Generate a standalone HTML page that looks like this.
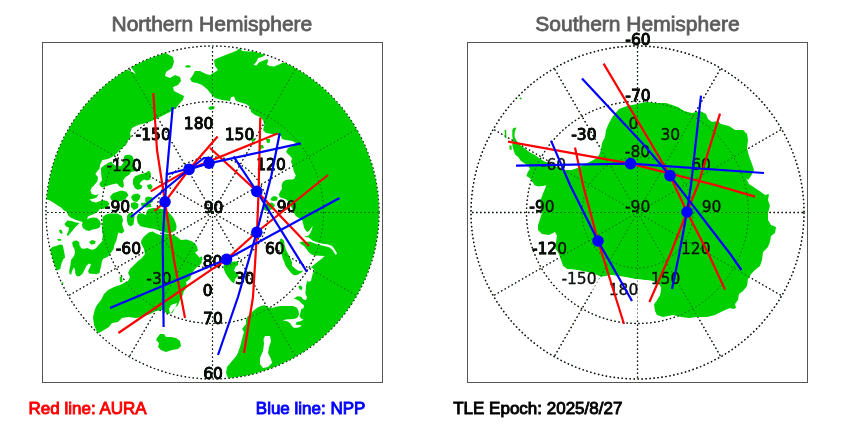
<!DOCTYPE html>
<html><head><meta charset="utf-8"><title>Satellite orbit crossings</title>
<style>
html,body{margin:0;padding:0;background:#fff;}
body{width:850px;height:425px;overflow:hidden;position:relative;font-family:"Liberation Sans",sans-serif;}
svg{position:absolute;left:0;top:0;}
.title{font-size:21px;fill:#5c5c5c;stroke:#5c5c5c;stroke-width:0.8px;}
.lab{text-anchor:middle;font-family:'DejaVu Sans',sans-serif;font-size:15.5px;fill:#000;stroke:#000;stroke-width:0.8px;}
.lab2{text-anchor:middle;font-family:'DejaVu Sans',sans-serif;font-size:15.5px;fill:#0a100a;stroke:#0a100a;stroke-width:0.35px;}
.leg{font-size:17px;stroke-width:0.9px;}
.grat{fill:none;stroke:#000;stroke-dasharray:1.5 2.5;}
.grat2{fill:none;stroke:#002800;stroke-width:0.9;stroke-dasharray:1.3 2.7;opacity:0.8;}
.trk{fill:none;stroke-width:2.2;stroke-linecap:butt;stroke-linejoin:round;}
</style></head><body>
<svg width="850" height="425" viewBox="0 0 850 425" font-family="Liberation Sans, sans-serif">
<defs>
<clipPath id="cn"><circle cx="212.5" cy="212.5" r="166.5"/></clipPath>
<clipPath id="cs"><circle cx="637.5" cy="212.5" r="166.5"/></clipPath>
</defs>
<rect x="0" y="0" width="850" height="425" fill="#fff"/>

<rect x="42.5" y="42.5" width="340" height="340" fill="none" stroke="#555" stroke-width="1"/>
<g class="grat" stroke-width="1.2">
<circle cx="212.5" cy="212.5" r="55.5"/>
<circle cx="212.5" cy="212.5" r="111.0"/>
<line x1="212.5" y1="212.5" x2="379.0" y2="212.5"/>
<line x1="212.5" y1="212.5" x2="356.7" y2="295.8"/>
<line x1="212.5" y1="212.5" x2="295.8" y2="356.7"/>
<line x1="212.5" y1="212.5" x2="212.5" y2="379.0"/>
<line x1="212.5" y1="212.5" x2="129.3" y2="356.7"/>
<line x1="212.5" y1="212.5" x2="68.3" y2="295.8"/>
<line x1="212.5" y1="212.5" x2="46.0" y2="212.5"/>
<line x1="212.5" y1="212.5" x2="68.3" y2="129.2"/>
<line x1="212.5" y1="212.5" x2="129.2" y2="68.3"/>
<line x1="212.5" y1="212.5" x2="212.5" y2="46.0"/>
<line x1="212.5" y1="212.5" x2="295.8" y2="68.3"/>
<line x1="212.5" y1="212.5" x2="356.7" y2="129.2"/>
<circle cx="212.5" cy="212.5" r="166.5" stroke-width="1.2"/>
</g>
<g class="lab"><text x="198.6" y="129.2">180</text>
<text x="153.2" y="140.3">-150</text>
<text x="239.5" y="140.2">150</text>
<text x="124.0" y="170.8">-120</text>
<text x="271.0" y="170.3">120</text>
<text x="117.5" y="212.2">-90</text>
<text x="213.6" y="212.7">90</text>
<text x="286.5" y="212.3">90</text>
<text x="128.4" y="254.2">-60</text>
<text x="274.8" y="254.3">60</text>
<text x="159.0" y="284.2">-30</text>
<text x="244.8" y="284.3">30</text>
<text x="212.5" y="267.2">80</text>
<text x="207.8" y="296.1">0</text>
<text x="212.9" y="323.6">70</text>
<text x="213.0" y="378.9">60</text></g>
<g clip-path="url(#cn)">
<g fill="#00d000"><path fill-rule="evenodd" d="M164.0 52.0 L173.0 57.0 L174.0 62.0 L172.0 68.0 L166.0 72.0 L165.0 76.0 L170.0 78.0 L175.0 75.0 L180.0 77.0 L181.0 81.0 L178.0 85.0 L173.0 87.0 L174.0 91.0 L180.0 94.0 L184.0 96.0 L183.0 100.0 L180.0 103.0 L176.0 108.0 L170.0 112.0 L162.0 116.0 L154.0 120.0 L146.0 123.0 L138.0 125.0 L132.0 128.0 L130.0 133.0 L131.0 137.0 L128.0 140.0 L126.0 145.0 L122.0 148.0 L119.0 151.0 L116.0 154.0 L112.0 157.0 L108.0 159.0 L102.4 160.0 L100.2 164.2 L99.5 168.5 L97.4 171.3 L95.3 174.0 L98.0 177.0 L97.4 181.2 L94.6 184.7 L91.8 187.5 L90.4 190.4 L91.8 193.9 L96.0 195.3 L98.8 193.9 L96.7 197.4 L93.2 198.8 L89.6 199.5 L91.8 201.6 L96.0 202.4 L100.2 201.0 L103.8 200.2 L107.3 201.0 L109.4 203.8 L107.3 207.3 L103.8 208.7 L100.2 208.7 L98.0 211.5 L97.0 212.0 L95.0 213.5 L91.4 215.0 L88.0 216.5 L87.0 219.4 L90.0 218.0 L94.0 217.6 L97.0 218.0 L99.6 220.6 L101.0 224.0 L99.6 227.6 L96.0 229.0 L92.6 229.4 L89.0 231.0 L85.5 230.0 L82.6 227.6 L82.0 225.0 L82.6 222.0 L79.6 221.0 L76.0 220.0 L71.4 218.0 L68.5 216.0 L67.0 212.0 L64.0 210.6 L61.0 207.6 L57.0 205.0 L54.0 203.0 L50.0 200.6 L46.0 199.0 L30.0 197.0 L30.0 30.0 L164.0 30.0Z M125.0 66.0 L130.0 66.0 L133.0 70.0 L136.0 74.0 L132.0 72.0 L128.0 70.0Z"/>
<polygon points="64.4,224.0 67.3,220.6 71.4,221.0 76.0,222.4 79.6,223.0 77.3,225.3 75.0,227.6 72.6,230.6 70.0,233.5 68.0,236.0 66.7,234.7 68.5,231.0 69.0,227.6 66.0,226.5"/>
<polygon points="59.0,230.0 61.0,229.4 62.6,232.0 62.0,234.0 60.0,233.0"/>
<polygon points="101.0,168.5 101.8,167.0 105.0,165.0 108.0,163.0 111.2,161.5 113.0,164.0 117.0,166.5 121.0,166.0 123.3,163.0 124.0,156.5 125.9,155.0 129.4,154.7 132.4,155.9 133.5,158.8 134.0,164.7 135.3,169.4 136.0,171.0 131.0,172.0 129.0,175.0 125.5,177.0 123.0,180.6 124.0,185.0 123.0,188.0 119.6,186.5 117.0,183.5 114.0,184.0 110.0,185.0 105.5,186.5 102.0,187.6 99.6,185.0 99.6,183.0 102.0,180.6 101.4,176.0 101.0,171.0"/>
<polygon points="133.0,179.4 134.8,176.6 138.6,174.7 142.4,173.8 146.0,172.8 149.0,170.5 150.8,173.0 151.0,176.6 150.0,179.4 147.0,180.4 144.2,179.4 141.4,181.3 139.5,184.0 142.4,186.0 141.4,188.8 137.6,189.8 134.8,187.9 133.0,184.0"/>
<polygon points="102.6,217.0 105.5,214.7 110.0,213.5 117.3,213.5 122.0,216.0 123.0,220.6 122.0,224.0 123.0,227.6 124.4,231.0 122.0,233.5 118.5,232.4 117.3,236.0 115.0,240.0 102.0,240.0 103.0,234.7 102.0,230.0 102.6,224.0"/>
<polygon points="72.0,242.7 74.0,240.8 76.8,240.4 79.2,242.2 79.6,245.5 81.5,248.4 84.4,248.8 87.2,247.9 90.0,249.3 92.8,249.8 95.6,248.4 97.5,246.5 99.4,244.0 101.3,242.2 103.2,239.0 104.0,236.0 102.2,233.3 110.0,232.0 117.3,236.0 116.4,240.8 114.5,244.6 113.5,249.3 110.7,253.0 107.9,256.8 103.2,258.8 101.8,261.6 101.3,265.4 100.4,269.0 99.4,272.9 96.6,274.3 92.8,273.8 89.0,273.4 88.0,271.0 90.0,267.2 91.0,264.4 89.0,263.5 86.2,266.3 84.4,270.0 82.5,273.8 79.6,276.2 76.8,276.2 75.4,273.8 75.0,270.0 74.0,267.2 72.0,271.0 71.2,274.8 69.3,273.8 69.3,270.0 70.2,266.3 70.7,262.5 71.2,259.7 74.0,256.0 75.0,253.0 74.5,249.3 73.0,246.5"/>
<polygon points="44.0,249.0 50.0,249.3 52.4,247.0 56.0,246.0 60.0,244.6 62.7,245.0 63.6,249.3 64.6,254.0 65.0,257.8 63.6,258.8 61.8,262.5 60.8,266.3 60.4,269.0 58.0,270.0 56.0,270.5 44.0,272.0"/>
<polygon points="89.0,242.0 92.0,240.0 95.6,241.0 95.0,244.0 91.0,244.6"/>
<polygon points="57.0,239.2 61.0,239.0 61.3,240.8 58.0,240.8"/>
<polygon points="61.0,282.0 63.5,282.5 63.0,285.0 60.0,286.0"/>
<polygon points="119.5,277.0 122.0,276.6 122.5,282.0 120.0,282.3"/>
<path fill-rule="evenodd" d="M141.3 240.4 L144.0 236.6 L148.8 232.4 L152.6 231.5 L156.4 233.8 L161.0 235.2 L164.8 233.4 L169.5 233.8 L174.2 235.2 L178.0 237.6 L180.8 240.0 L186.5 239.5 L191.2 240.9 L195.0 243.2 L197.3 247.0 L197.8 250.8 L195.0 252.6 L200.0 258.0 L202.0 262.0 L200.0 265.0 L196.0 268.0 L192.0 273.0 L190.0 279.0 L186.0 282.0 L187.0 287.0 L184.0 291.0 L182.0 297.0 L180.0 300.0 L178.0 305.0 L174.0 309.0 L171.0 313.0 L168.0 314.0 L162.0 310.0 L156.0 311.0 L150.0 314.0 L142.0 317.0 L136.0 318.0 L128.0 317.0 L122.0 318.0 L118.0 322.0 L112.0 323.0 L109.0 327.0 L104.0 330.0 L99.0 333.0 L97.0 332.0 L94.0 325.0 L93.0 317.0 L95.0 309.0 L97.0 305.0 L101.0 300.0 L104.0 294.0 L108.0 290.0 L114.0 287.0 L120.0 285.0 L124.0 283.0 L128.0 281.0 L130.0 277.0 L128.0 273.0 L130.0 269.0 L134.0 265.0 L138.0 261.0 L142.0 258.0 L145.0 254.0 L144.0 249.0 L141.0 243.0Z M171.0 305.0 L169.0 309.0 L170.0 313.0 L172.0 313.5 L173.5 311.0 L176.0 306.0 L177.0 303.0Z"/>
<polygon points="136.8,217.0 138.2,214.0 142.0,213.2 145.8,215.0 146.7,211.3 148.6,209.0 153.3,208.0 159.0,208.5 162.0,209.0 165.5,209.4 168.4,212.2 171.2,215.0 174.0,218.8 175.9,223.5 176.6,226.5 176.0,230.0 172.4,232.4 167.6,232.9 163.0,232.0 159.2,230.5 154.5,229.0 149.8,228.2 145.0,227.2 140.4,226.3 137.5,222.5"/>
<polygon points="127.0,216.0 128.8,213.2 132.6,212.7 134.5,216.0 134.0,220.7 133.5,224.5 130.7,226.4 127.9,224.5 127.0,220.7"/>
<polygon points="110.0,196.7 113.0,193.2 117.2,191.8 121.4,190.4 126.4,191.8 128.5,195.3 125.6,198.8 121.4,201.0 115.8,201.6 111.5,200.2"/>
<polygon points="131.0,197.3 133.0,194.5 137.6,193.5 140.5,195.4 139.5,199.2 136.7,202.0 133.0,201.0"/>
<polygon points="145.0,198.0 148.0,196.4 152.7,197.5 152.7,202.0 149.0,204.0 145.5,202.5"/>
<polygon points="147.0,185.0 150.8,184.0 152.7,187.0 150.8,189.8 148.0,188.8"/>
<polygon points="131.0,203.0 135.0,202.0 138.5,204.0 138.0,208.0 134.0,210.0 131.0,207.0"/>
<polygon points="141.0,203.0 146.0,202.5 151.0,204.0 151.4,207.0 146.0,207.5 141.5,206.0"/>
<polygon points="157.0,338.0 160.0,334.0 164.0,334.0 166.0,337.0 171.0,337.0 176.0,338.0 180.0,341.0 181.0,346.0 178.0,349.0 172.0,350.0 166.0,352.0 161.0,350.0 158.0,347.0 159.0,343.0 156.0,340.0"/>
<polygon points="223.5,268.2 224.0,263.0 227.0,260.5 231.8,261.8 237.6,261.2 238.2,264.7 235.3,267.0 234.1,270.6 236.5,273.0 238.8,275.3 235.3,278.8 234.1,283.5 231.2,281.2 228.2,277.6 225.3,273.0"/>
<polygon points="200.0,257.0 202.0,256.5 202.5,260.0 200.5,261.0"/>
<polygon points="280.0,239.5 281.4,238.6 283.8,240.5 284.7,245.2 286.0,249.9 288.5,254.6 290.4,258.4 292.0,262.0 292.0,265.8 295.0,268.6 297.8,270.5 300.6,271.0 303.4,270.5 301.5,272.4 297.8,274.7 294.0,275.2 291.2,273.3 288.4,269.5 285.5,265.8 284.2,262.0 282.4,257.4 281.4,252.7 280.5,246.0"/>
<polygon points="298.2,286.5 300.6,285.5 302.5,287.4 301.5,290.2 299.6,289.3"/>
<polygon points="270.4,199.2 272.2,196.8 275.0,196.0 277.9,197.8 277.0,200.6 273.6,201.0 271.3,200.6"/>
<polygon points="262.0,208.0 266.0,203.5 272.0,202.5 275.0,205.0 273.0,209.0 266.0,211.0"/>
<polygon points="208.0,108.0 211.0,106.0 215.0,106.5 214.0,109.0 210.0,110.0"/>
<polygon points="185.0,66.0 188.0,65.0 191.0,66.0 190.0,67.5 186.0,67.5"/>
<polygon points="251.0,139.0 254.0,138.0 255.0,141.0 252.0,142.0"/>
<polygon points="259.0,145.0 263.0,145.0 264.0,148.0 260.0,149.0"/>
<polygon points="266.0,139.0 270.0,139.0 270.0,142.5 267.0,143.0"/>
<path fill-rule="evenodd" d="M240.0 48.0 L236.0 51.0 L228.0 54.0 L218.0 58.0 L214.0 60.0 L215.0 66.0 L218.0 70.0 L215.0 72.0 L210.0 75.0 L206.0 74.0 L200.0 71.0 L195.0 71.0 L193.0 75.0 L190.0 79.0 L192.0 82.0 L197.0 83.0 L202.0 85.0 L207.0 89.0 L211.0 94.0 L215.0 98.0 L222.0 100.0 L230.0 101.0 L231.0 97.0 L234.0 96.5 L236.0 101.0 L239.0 102.0 L246.0 104.0 L250.0 107.0 L251.0 112.0 L255.0 115.0 L260.0 117.0 L263.0 120.0 L264.4 125.0 L263.0 130.0 L266.0 133.0 L272.0 134.0 L277.0 135.0 L281.0 136.0 L282.0 139.0 L286.0 140.0 L292.0 141.0 L296.0 143.0 L293.0 146.0 L288.0 148.0 L286.0 152.0 L289.0 155.0 L292.0 158.0 L291.0 162.0 L293.0 166.0 L293.4 170.0 L294.4 172.8 L295.8 175.6 L294.4 178.5 L292.5 179.4 L289.6 179.4 L285.9 180.0 L283.0 181.8 L281.6 185.0 L282.0 188.8 L280.2 191.6 L278.8 194.5 L279.8 197.3 L283.0 198.2 L285.9 199.2 L287.8 201.0 L290.0 205.0 L293.0 210.0 L294.0 213.2 L295.9 216.0 L298.7 217.9 L301.5 218.8 L302.5 221.6 L303.4 224.5 L303.9 227.3 L305.3 230.0 L307.2 232.0 L309.0 231.0 L311.0 228.2 L312.8 225.9 L311.9 229.2 L310.5 232.5 L309.0 235.3 L306.2 236.2 L304.0 236.7 L308.7 237.6 L312.5 240.5 L317.2 242.4 L322.8 243.8 L327.5 244.2 L332.2 246.0 L335.0 249.9 L337.0 253.2 L336.0 255.0 L334.6 253.2 L332.2 249.4 L328.5 247.0 L323.8 246.0 L319.0 244.7 L314.4 243.3 L309.6 241.4 L305.9 241.9 L302.0 241.4 L299.3 242.4 L301.2 244.2 L304.0 246.0 L306.8 249.4 L308.7 252.2 L311.5 254.6 L314.4 255.5 L324.7 256.0 L321.0 259.3 L316.2 263.0 L311.5 266.8 L308.7 268.7 L311.9 267.6 L314.7 270.5 L312.8 273.3 L311.9 277.0 L311.0 280.8 L309.0 281.8 L307.2 280.8 L306.2 284.6 L305.8 289.3 L305.3 294.0 L306.0 294.8 L307.0 297.6 L306.0 300.0 L303.2 299.5 L301.3 296.7 L297.5 296.2 L293.8 298.6 L296.6 299.5 L299.4 301.0 L301.3 303.3 L304.0 305.2 L303.6 308.0 L301.3 309.0 L300.4 312.7 L299.4 316.5 L301.3 318.4 L303.6 319.8 L300.4 321.2 L296.6 322.0 L295.6 324.5 L298.5 325.0 L301.3 325.0 L300.4 326.8 L297.5 327.8 L293.8 327.8 L291.9 325.9 L290.0 323.0 L287.2 321.2 L282.5 320.2 L287.2 319.3 L291.0 319.3 L294.7 318.8 L297.5 317.4 L299.0 314.6 L298.5 310.8 L296.6 307.5 L292.8 306.0 L287.2 306.0 L281.5 306.0 L276.8 306.6 L272.0 308.0 L268.4 307.5 L264.6 305.2 L260.8 306.0 L257.0 308.0 L253.3 310.8 L250.5 313.6 L247.6 316.5 L246.0 320.0 L246.0 324.0 L242.0 329.0 L244.0 332.0 L242.0 339.0 L240.0 347.0 L237.0 355.0 L232.0 361.0 L227.0 367.0 L226.0 373.0 L228.0 378.0 L228.0 395.0 L400.0 395.0 L400.0 30.0 L240.0 30.0Z M265.0 336.0 L270.0 336.0 L271.0 341.0 L269.0 347.0 L268.0 353.0 L271.0 359.0 L272.0 363.0 L268.0 367.0 L263.0 368.0 L260.0 364.0 L260.0 358.0 L263.0 351.0 L264.0 344.0 L263.6 339.0Z M266.7 54.2 L262.0 57.0 L258.2 58.0 L256.4 61.8 L253.5 65.0 L256.4 65.5 L259.2 62.2 L263.0 60.8 L267.6 59.0 L268.0 61.8 L266.7 64.6 L269.5 66.0 L274.2 66.5 L279.0 64.6 L282.7 62.7 L285.5 61.8 L288.0 58.0 L275.0 50.0Z M239.4 47.6 L242.2 51.0 L248.8 51.4 L254.5 51.4 L260.0 53.3 L264.8 54.7 L266.7 54.2 L264.0 45.0 L245.0 38.0Z"/></g>
</g>
<g class="grat2">
<circle cx="212.5" cy="212.5" r="55.5"/>
<circle cx="212.5" cy="212.5" r="111.0"/>
<line x1="212.5" y1="212.5" x2="379.0" y2="212.5"/>
<line x1="212.5" y1="212.5" x2="356.7" y2="295.8"/>
<line x1="212.5" y1="212.5" x2="295.8" y2="356.7"/>
<line x1="212.5" y1="212.5" x2="212.5" y2="379.0"/>
<line x1="212.5" y1="212.5" x2="129.3" y2="356.7"/>
<line x1="212.5" y1="212.5" x2="68.3" y2="295.8"/>
<line x1="212.5" y1="212.5" x2="46.0" y2="212.5"/>
<line x1="212.5" y1="212.5" x2="68.3" y2="129.2"/>
<line x1="212.5" y1="212.5" x2="129.2" y2="68.3"/>
<line x1="212.5" y1="212.5" x2="212.5" y2="46.0"/>
<line x1="212.5" y1="212.5" x2="295.8" y2="68.3"/>
<line x1="212.5" y1="212.5" x2="356.7" y2="129.2"/>
<circle cx="212.5" cy="212.5" r="166.5"/>
</g>
<g class="lab2"><text x="198.6" y="129.2">180</text>
<text x="153.2" y="140.3">-150</text>
<text x="239.5" y="140.2">150</text>
<text x="124.0" y="170.8">-120</text>
<text x="271.0" y="170.3">120</text>
<text x="117.5" y="212.2">-90</text>
<text x="213.6" y="212.7">90</text>
<text x="286.5" y="212.3">90</text>
<text x="128.4" y="254.2">-60</text>
<text x="274.8" y="254.3">60</text>
<text x="159.0" y="284.2">-30</text>
<text x="244.8" y="284.3">30</text>
<text x="212.5" y="267.2">80</text>
<text x="207.8" y="296.1">0</text>
<text x="212.9" y="323.6">70</text>
<text x="213.0" y="378.9">60</text></g>
<g class="trk">
<polyline points="153.3,93.0 157.0,150.0 165.0,202.0 174.0,260.0 185.0,318.0" stroke="#ff0000"/>
<polyline points="217.6,136.5 189.0,169.5 165.0,201.8 154.4,211.0" stroke="#ff0000"/>
<polyline points="210.0,148.0 257.0,191.4 309.0,246.0" stroke="#ff0000"/>
<polyline points="277.5,133.6 189.0,169.4 150.7,191.4" stroke="#ff0000"/>
<polyline points="260.3,117.5 258.6,191.0 257.0,232.0 253.0,297.0 244.0,353.0" stroke="#ff0000"/>
<polyline points="328.0,175.0 257.0,232.0 226.5,259.3 118.4,333.0" stroke="#ff0000"/>
<polyline points="172.7,107.2 166.8,173.8 165.0,201.8 162.7,240.0 163.6,327.0" stroke="#0000ff"/>
<polyline points="300.8,143.4 209.0,163.3 166.0,174.5" stroke="#0000ff"/>
<polyline points="279.7,133.2 271.5,175.0 264.6,201.8 256.8,232.0 238.0,297.0 218.0,355.0" stroke="#0000ff"/>
<polyline points="233.5,156.3 256.8,191.4 307.0,272.0" stroke="#0000ff"/>
<polyline points="339.6,198.0 226.5,259.3 110.0,308.0" stroke="#0000ff"/>
<polyline points="212.0,157.8 204.0,158.0 189.0,169.5 131.0,217.0" stroke="#0000ff"/>
<polyline points="209.0,163.3 189.0,169.5" stroke="#0000ff"/>
</g>
<circle cx="189.0" cy="169.4" r="5.8" fill="#0000ff"/>
<circle cx="209.0" cy="163.2" r="5.8" fill="#0000ff"/>
<circle cx="256.8" cy="191.4" r="5.8" fill="#0000ff"/>
<circle cx="165.0" cy="201.8" r="5.8" fill="#0000ff"/>
<circle cx="256.8" cy="232.3" r="5.8" fill="#0000ff"/>
<circle cx="226.5" cy="259.3" r="5.8" fill="#0000ff"/>
<rect x="467.5" y="42.5" width="340" height="340" fill="none" stroke="#555" stroke-width="1"/>
<g class="grat" stroke-width="1.3">
<circle cx="637.5" cy="212.5" r="55.5"/>
<circle cx="637.5" cy="212.5" r="111.0"/>
<line x1="637.5" y1="212.5" x2="804.0" y2="212.5"/>
<line x1="637.5" y1="212.5" x2="781.7" y2="295.8"/>
<line x1="637.5" y1="212.5" x2="720.8" y2="356.7"/>
<line x1="637.5" y1="212.5" x2="637.5" y2="379.0"/>
<line x1="637.5" y1="212.5" x2="554.2" y2="356.7"/>
<line x1="637.5" y1="212.5" x2="493.3" y2="295.8"/>
<line x1="637.5" y1="212.5" x2="471.0" y2="212.5"/>
<line x1="637.5" y1="212.5" x2="493.3" y2="129.2"/>
<line x1="637.5" y1="212.5" x2="554.2" y2="68.3"/>
<line x1="637.5" y1="212.5" x2="637.5" y2="46.0"/>
<line x1="637.5" y1="212.5" x2="720.8" y2="68.3"/>
<line x1="637.5" y1="212.5" x2="781.7" y2="129.2"/>
<circle cx="637.5" cy="212.5" r="166.5" stroke-width="1.45"/>
</g>
<g class="lab"><text x="638.0" y="44.9">-60</text>
<text x="638.0" y="101.2">-70</text>
<text x="633.5" y="128.9">0</text>
<text x="583.9" y="140.0">-30</text>
<text x="670.3" y="140.0">30</text>
<text x="637.5" y="156.8">-80</text>
<text x="701.0" y="170.3">60</text>
<text x="542.0" y="212.3">-90</text>
<text x="637.7" y="212.3">-90</text>
<text x="711.5" y="212.3">90</text>
<text x="549.5" y="254.3">-120</text>
<text x="695.8" y="254.2">120</text>
<text x="579.0" y="284.3">-150</text>
<text x="665.5" y="284.3">150</text></g>
<g clip-path="url(#cs)">
<g fill="#00d000"><polygon points="512.3,130.0 513.5,128.0 516.4,127.6 514.6,132.4 514.6,137.0 516.4,140.6 520.5,145.3 525.2,148.8 530.0,152.4 534.6,154.7 539.4,158.2 544.0,161.2 548.8,163.0 555.0,166.0 563.0,170.0 571.0,170.0 577.0,168.0 583.0,165.0 589.0,162.0 595.0,159.0 599.0,155.0 601.0,149.0 602.0,143.0 605.0,137.0 606.0,130.0 609.0,123.0 613.0,116.0 619.0,109.0 627.0,106.0 637.0,104.0 646.0,102.0 656.0,103.0 666.0,103.0 672.0,105.0 678.0,107.0 684.0,111.0 692.0,113.0 700.0,111.0 706.0,114.0 708.0,119.0 712.0,122.0 718.0,121.0 721.0,124.0 729.0,126.0 735.0,130.0 743.0,130.0 747.0,134.0 748.0,140.0 747.0,148.0 749.0,156.0 752.0,164.0 754.0,170.0 751.0,176.0 748.0,180.0 746.0,178.0 749.0,184.0 755.0,188.0 761.0,192.0 765.0,195.0 769.0,194.0 768.0,200.0 770.0,206.0 768.0,213.0 768.0,220.0 771.0,225.0 776.0,227.0 775.0,233.0 771.0,236.0 770.0,242.0 768.0,247.0 763.0,252.0 762.0,260.0 760.0,266.0 755.0,270.0 751.0,274.0 748.0,279.0 747.0,286.0 743.0,291.0 739.0,294.0 738.0,300.0 735.0,304.0 736.0,308.0 733.0,309.0 730.0,308.0 723.0,311.0 715.0,315.0 707.0,317.0 697.0,317.0 689.0,318.0 681.0,317.0 673.0,315.0 663.0,317.0 657.0,315.0 655.0,311.0 654.0,304.0 657.0,300.0 660.0,295.0 661.0,288.0 659.0,284.0 653.0,281.0 645.0,280.0 635.0,279.0 625.0,277.0 617.0,276.0 611.0,275.0 606.0,276.0 601.0,277.0 597.0,275.0 587.0,272.0 577.0,270.0 567.0,269.0 563.0,266.0 561.0,260.0 559.0,254.0 555.0,248.0 556.0,242.0 557.0,236.0 555.0,232.0 549.0,235.0 542.0,234.0 538.0,230.0 538.0,225.0 540.0,219.0 542.0,213.0 541.0,207.0 540.0,201.0 542.0,196.0 544.0,191.0 546.4,185.3 542.9,185.9 538.2,186.5 534.6,185.3 532.3,181.8 530.0,178.2 526.4,175.9 527.6,172.4 530.0,168.8 527.6,165.3 524.0,163.0 520.5,160.6 518.2,157.0 515.2,154.7 513.5,150.0 512.3,145.3 512.9,140.6 512.3,135.9"/>
<polygon points="504.6,130.0 506.2,130.0 506.4,138.0 505.0,138.2"/>
<polygon points="509.4,145.3 511.5,145.5 511.7,150.0 509.6,149.5"/>
<polygon points="520.0,97.5 522.0,98.0 521.0,99.5 519.5,99.0"/></g>
<polygon points="559.0,262.0 561.0,260.5 563.0,266.0 567.0,269.0 577.0,270.0 587.0,272.0 597.0,275.0 601.0,277.0 606.0,276.0 611.0,275.0 617.0,276.0 625.0,277.0 635.0,279.0 645.0,280.0 653.0,281.0 659.0,284.0 661.0,288.0 660.0,295.0 657.0,300.0 654.0,304.0 650.0,312.0 640.0,318.0 625.0,318.0 612.0,305.0 600.0,292.0 558.0,291.0" fill="#fff"/>
<polygon points="548.8,163.0 555.0,166.0 563.0,170.0 571.0,170.0 577.0,168.0 583.0,165.0 589.0,162.0 595.0,159.0 599.0,155.0 601.0,149.0 590.0,150.0 575.0,151.0 560.0,153.0 547.0,157.0" fill="#fff"/>
</g>
<g class="grat2">
<circle cx="637.5" cy="212.5" r="55.5"/>
<circle cx="637.5" cy="212.5" r="111.0"/>
<line x1="637.5" y1="212.5" x2="804.0" y2="212.5"/>
<line x1="637.5" y1="212.5" x2="781.7" y2="295.8"/>
<line x1="637.5" y1="212.5" x2="720.8" y2="356.7"/>
<line x1="637.5" y1="212.5" x2="637.5" y2="379.0"/>
<line x1="637.5" y1="212.5" x2="554.2" y2="356.7"/>
<line x1="637.5" y1="212.5" x2="493.3" y2="295.8"/>
<line x1="637.5" y1="212.5" x2="471.0" y2="212.5"/>
<line x1="637.5" y1="212.5" x2="493.3" y2="129.2"/>
<line x1="637.5" y1="212.5" x2="554.2" y2="68.3"/>
<line x1="637.5" y1="212.5" x2="637.5" y2="46.0"/>
<line x1="637.5" y1="212.5" x2="720.8" y2="68.3"/>
<line x1="637.5" y1="212.5" x2="781.7" y2="129.2"/>
<circle cx="637.5" cy="212.5" r="166.5"/>
</g>
<g class="lab2"><text x="638.0" y="44.9">-60</text>
<text x="638.0" y="101.2">-70</text>
<text x="633.5" y="128.9">0</text>
<text x="583.9" y="140.0">-30</text>
<text x="670.3" y="140.0">30</text>
<text x="637.5" y="156.8">-80</text>
<text x="553.5" y="170.3">-60</text>
<text x="701.0" y="170.3">60</text>
<text x="542.0" y="212.3">-90</text>
<text x="637.7" y="212.3">-90</text>
<text x="711.5" y="212.3">90</text>
<text x="549.5" y="254.3">-120</text>
<text x="695.8" y="254.2">120</text>
<text x="579.0" y="284.3">-150</text>
<text x="665.5" y="284.3">150</text>
<text x="623.5" y="295.4">180</text></g>
<g class="trk">
<polyline points="603.6,63.6 652.0,145.0 670.0,175.6 687.0,212.0 709.0,255.0 725.0,289.6" stroke="#ff0000"/>
<polyline points="720.0,113.6 698.0,185.0 687.0,212.0 670.0,255.0 649.4,302.0" stroke="#ff0000"/>
<polyline points="508.0,141.6 630.6,163.6 715.0,185.0 755.0,196.6" stroke="#ff0000"/>
<polyline points="575.0,147.6 583.0,185.0 598.0,241.0 624.0,324.0" stroke="#ff0000"/>
<polyline points="582.0,78.6 644.0,145.0 670.0,175.6 731.0,255.0 741.4,270.0" stroke="#0000ff"/>
<polyline points="701.0,95.6 691.0,185.0 687.0,212.0 679.0,255.0 672.0,289.0" stroke="#0000ff"/>
<polyline points="516.0,165.6 630.6,163.6 764.0,173.0" stroke="#0000ff"/>
<polyline points="551.0,140.6 570.0,185.0 598.0,241.0 632.0,301.0" stroke="#0000ff"/>
</g>
<circle cx="630.6" cy="163.6" r="5.8" fill="#0000ff"/>
<circle cx="670.0" cy="175.6" r="5.8" fill="#0000ff"/>
<circle cx="687.0" cy="212.0" r="5.8" fill="#0000ff"/>
<circle cx="598.0" cy="241.0" r="5.8" fill="#0000ff"/>
<text class="title" x="111.5" y="30.7">Northern Hemisphere</text>
<text class="title" x="535.3" y="30.7">Southern Hemisphere</text>
<text class="leg" x="28.6" y="413.5" fill="#ff0000" stroke="#ff0000">Red line: AURA</text>
<text class="leg" x="255.8" y="413.5" fill="#0000ff" stroke="#0000ff">Blue line: NPP</text>
<text class="leg" x="453.2" y="413.5" fill="#000" stroke="#000">TLE Epoch: 2025/8/27</text>
</svg></body></html>
